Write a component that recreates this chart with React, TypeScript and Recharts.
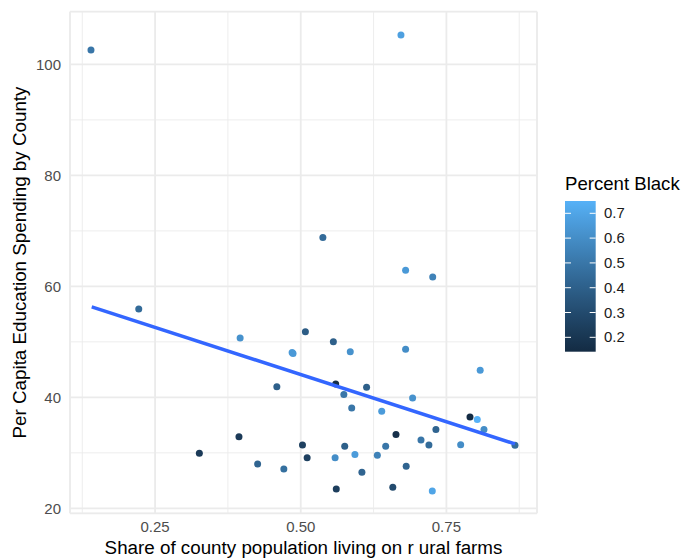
import React from 'react';
import {
  ScatterChart,
  Scatter,
  XAxis,
  YAxis,
  CartesianGrid,
} from 'recharts';

// County observations: rural farm share, per-capita education spending, percent Black
const shareRural = [
  0.140, 0.672, 0.538, 0.680, 0.7265, 0.222, 0.396, 0.508, 0.556, 0.4852,
  0.4868, 0.585, 0.459, 0.560, 0.574, 0.613, 0.5875, 0.326, 0.394, 0.426,
  0.471, 0.503, 0.511, 0.559, 0.5755, 0.593, 0.605, 0.561, 0.680, 0.808,
  0.692, 0.639, 0.7905, 0.803, 0.8145, 0.732, 0.6635, 0.7064, 0.720, 0.7745,
  0.8677, 0.6458, 0.6315, 0.681, 0.658, 0.7258,
];
const spending = [
  102.6, 105.3, 68.8, 62.9, 61.7, 55.9, 50.7, 51.8, 50.0, 48.1,
  47.9, 48.2, 41.9, 42.4, 40.5, 41.8, 38.1, 29.9, 32.9, 28.0,
  27.1, 31.4, 29.1, 29.1, 31.2, 29.7, 26.5, 23.5, 48.65, 44.9,
  39.9, 37.5, 36.45, 36.0, 34.2, 34.2, 33.3, 32.3, 31.4, 31.46,
  31.35, 31.2, 29.55, 27.6, 23.8, 23.1,
];
const pctBlack = [
  0.50, 0.68, 0.45, 0.65, 0.55, 0.45, 0.62, 0.38, 0.40, 0.65,
  0.65, 0.62, 0.40, 0.16, 0.50, 0.40, 0.50, 0.22, 0.22, 0.42,
  0.47, 0.25, 0.25, 0.60, 0.40, 0.66, 0.42, 0.24, 0.60, 0.65,
  0.62, 0.66, 0.142, 0.75, 0.60, 0.42, 0.17, 0.50, 0.45, 0.60,
  0.45, 0.50, 0.55, 0.42, 0.30, 0.70,
];

// Fitted linear trend at the ends of the observed range
const trendX = [0.1413, 0.8677];
const trendY = [56.3, 31.6];

// Axis ticks
const xTicks = [0.25, 0.5, 0.75];
const xMinorTicks = [0.125, 0.375, 0.625, 0.875];
const yTicks = [20, 40, 60, 80, 100];
const yMinorTicks = [30, 50, 70, 90];
const legendTicks = [0.2, 0.3, 0.4, 0.5, 0.6, 0.7];

const xDomain: [number, number] = [0.104, 0.9055];
const yDomain: [number, number] = [19.1, 109.5];
const colorDomain: [number, number] = [0.142, 0.7496];

const points = shareRural.map((x, i) => ({ x, y: spending[i], pct: pctBlack[i] }));
const trend = trendX.map((x, i) => ({ x, y: trendY[i] }));

const FONT = '"Liberation Sans", Arial, Helvetica, sans-serif';

// Sequential gradient interpolated in CIE Lab space
const LOW = '#132B43';
const HIGH = '#56B1F7';

function hexToRgb(h: string): number[] {
  const n = parseInt(h.slice(1), 16);
  return [(n >> 16) & 255, (n >> 8) & 255, n & 255];
}
function toLinear(c: number) {
  const v = c / 255;
  return v <= 0.04045 ? v / 12.92 : Math.pow((v + 0.055) / 1.055, 2.4);
}
function fromLinear(v: number) {
  const c = v <= 0.0031308 ? 12.92 * v : 1.055 * Math.pow(v, 1 / 2.4) - 0.055;
  return Math.max(0, Math.min(255, Math.round(c * 255)));
}
const WHITE = [0.95047, 1.0, 1.08883];
function rgbToLab(rgb: number[]) {
  const [r, g, b] = rgb.map(toLinear);
  const X = (0.4124564 * r + 0.3575761 * g + 0.1804375 * b) / WHITE[0];
  const Y = (0.2126729 * r + 0.7151522 * g + 0.072175 * b) / WHITE[1];
  const Z = (0.0193339 * r + 0.119192 * g + 0.9503041 * b) / WHITE[2];
  const f = (t: number) => (t > 216 / 24389 ? Math.cbrt(t) : (24389 / 27 * t + 16) / 116);
  const fx = f(X), fy = f(Y), fz = f(Z);
  return [116 * fy - 16, 500 * (fx - fy), 200 * (fy - fz)];
}
function labToHex(lab: number[]) {
  const [L, a, b] = lab;
  const fy = (L + 16) / 116;
  const fx = fy + a / 500;
  const fz = fy - b / 200;
  const inv = (t: number) => (t * t * t > 216 / 24389 ? t * t * t : (116 * t - 16) / (24389 / 27));
  const X = inv(fx) * WHITE[0];
  const Y = inv(fy) * WHITE[1];
  const Z = inv(fz) * WHITE[2];
  const r = 3.2404542 * X - 1.5371385 * Y - 0.4985314 * Z;
  const g = -0.969266 * X + 1.8760108 * Y + 0.041556 * Z;
  const bb = 0.0556434 * X - 0.2040259 * Y + 1.0572252 * Z;
  return '#' + [r, g, bb].map((v) => fromLinear(v).toString(16).padStart(2, '0')).join('');
}
const LAB_LOW = rgbToLab(hexToRgb(LOW));
const LAB_HIGH = rgbToLab(hexToRgb(HIGH));
function colorFor(v: number) {
  const t = Math.max(0, Math.min(1, (v - colorDomain[0]) / (colorDomain[1] - colorDomain[0])));
  return labToHex(LAB_LOW.map((l, i) => l + (LAB_HIGH[i] - l) * t));
}

const Dot = (props: any) => {
  const { cx, cy, payload } = props;
  if (cx == null || cy == null) return <g />;
  return <circle cx={cx} cy={cy} r={3.5} fill={colorFor(payload.pct)} />;
};

const NoShape = () => <g />;

// Colourbar guide
const BAR_X = 565;
const BAR_Y = 201;
const BAR_W = 30.7;
const BAR_H = 150.7;

function ColorBar() {
  const stops = Array.from({ length: 21 }, (_, i) => i / 20);
  const yOf = (v: number) =>
    BAR_Y + ((colorDomain[1] - v) / (colorDomain[1] - colorDomain[0])) * BAR_H;
  return (
    <svg
      width={683}
      height={558}
      style={{ position: 'absolute', left: 0, top: 0, pointerEvents: 'none' }}
    >
      <defs>
        <linearGradient id="pctBlackGrad" x1="0" y1="1" x2="0" y2="0">
          {stops.map((s) => (
            <stop
              key={s}
              offset={s}
              stopColor={colorFor(colorDomain[0] + s * (colorDomain[1] - colorDomain[0]))}
            />
          ))}
        </linearGradient>
      </defs>
      <text x={BAR_X} y={190} fontSize={18.6} fontFamily={FONT} fill="#000">
        Percent Black
      </text>
      <rect x={BAR_X} y={BAR_Y} width={BAR_W} height={BAR_H} fill="url(#pctBlackGrad)" />
      {legendTicks.map((v) => (
        <g key={v}>
          <line x1={BAR_X} x2={BAR_X + 6} y1={yOf(v)} y2={yOf(v)} stroke="#fff" strokeWidth={1} />
          <line
            x1={BAR_X + BAR_W - 6}
            x2={BAR_X + BAR_W}
            y1={yOf(v)}
            y2={yOf(v)}
            stroke="#fff"
            strokeWidth={1}
          />
          <text
            x={604}
            y={yOf(v)}
            dominantBaseline="central"
            fontSize={14.9}
            fontFamily={FONT}
            fill="#1a1a1a"
          >
            {v.toFixed(1)}
          </text>
        </g>
      ))}
    </svg>
  );
}

export default function App() {
  const tickStyle = { fill: '#4D4D4D', fontSize: 15, fontFamily: FONT };
  return (
    <div
      style={{
        position: 'absolute',
        left: 0,
        top: 0,
        width: 683,
        height: 558,
        background: '#fff',
        overflow: 'hidden',
      }}
    >
      <ScatterChart
        width={683}
        height={558}
        margin={{ top: 11.7, right: 146, bottom: 0, left: 0 }}
      >
        <XAxis
          xAxisId="minor"
          type="number"
          dataKey="x"
          domain={xDomain}
          ticks={xMinorTicks}
          allowDataOverflow
          hide
        />
        <YAxis
          yAxisId="minor"
          type="number"
          dataKey="y"
          domain={yDomain}
          ticks={yMinorTicks}
          allowDataOverflow
          hide
        />
        <CartesianGrid
          xAxisId="minor"
          yAxisId="minor"
          stroke="#EBEBEB"
          strokeWidth={0.9}
        />
        <CartesianGrid
          xAxisId="main"
          yAxisId="main"
          stroke="#EBEBEB"
          strokeWidth={1.8}
        />
        <XAxis
          xAxisId="main"
          type="number"
          dataKey="x"
          domain={xDomain}
          ticks={xTicks}
          allowDataOverflow
          tickFormatter={(v: number) => v.toFixed(2)}
          axisLine={false}
          tickLine={false}
          tickSize={0}
          tickMargin={8}
          height={44.7}
          tick={tickStyle}
          label={{
            value: 'Share of county population living on r ural farms',
            position: 'insideBottom',
            offset: 4.5,
            style: { fill: '#000', fontSize: 18.8, fontFamily: FONT },
          }}
        />
        <YAxis
          yAxisId="main"
          type="number"
          dataKey="y"
          domain={yDomain}
          ticks={yTicks}
          allowDataOverflow
          axisLine={false}
          tickLine={false}
          tickSize={0}
          tickMargin={9}
          width={70}
          tick={tickStyle}
          label={{
            value: 'Per Capita Education Spending by County',
            position: 'insideLeft',
            angle: -90,
            offset: 19,
            style: { fill: '#000', fontSize: 18.8, fontFamily: FONT, textAnchor: 'middle' },
          }}
        />
        <Scatter
          data={points}
          xAxisId="main"
          yAxisId="main"
          shape={Dot}
          isAnimationActive={false}
        />
        <Scatter
          data={trend}
          xAxisId="main"
          yAxisId="main"
          shape={NoShape}
          line={{ stroke: '#3366FF', strokeWidth: 3.5 }}
          isAnimationActive={false}
        />
      </ScatterChart>
      <ColorBar />
    </div>
  );
}
